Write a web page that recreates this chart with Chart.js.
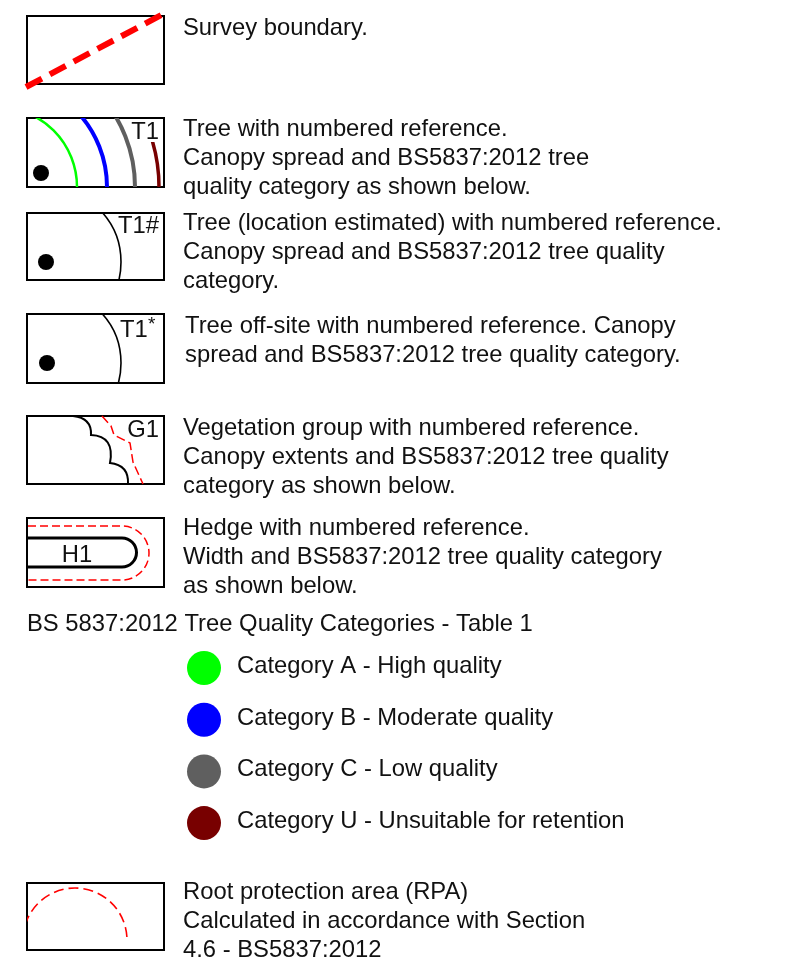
<!DOCTYPE html>
<html>
<head>
<meta charset="utf-8">
<script src="https://cdn.jsdelivr.net/npm/chart.js@4"></script>
<style>
  html, body { margin: 0; padding: 0; background: #fff; }
  #wrap { width: 789px; height: 964px; position: relative; }
</style>
</head>
<body>
<div id="wrap"><canvas id="legend"></canvas></div>
<script>
// tree quality categories (BS5837:2012 table 1)
const categoryLabels = [
  "Category A - High quality",
  "Category B - Moderate quality",
  "Category C - Low quality",
  "Category U - Unsuitable for retention",
];
const categoryColors = ["#00ff00", "#0000ff", "#5f5f5f", "#780000"];

// legend rows text, one array per symbol
const surveyText = ["Survey boundary."];
const treeText = [
  "Tree with numbered reference.",
  "Canopy spread and BS5837:2012 tree",
  "quality category as shown below.",
];
const treeEstText = [
  "Tree (location estimated) with numbered reference.",
  "Canopy spread and BS5837:2012 tree quality",
  "category.",
];
const treeOffText = [
  "Tree off-site with numbered reference. Canopy",
  "spread and BS5837:2012 tree quality category.",
];
const groupText = [
  "Vegetation group with numbered reference.",
  "Canopy extents and BS5837:2012 tree quality",
  "category as shown below.",
];
const hedgeText = [
  "Hedge with numbered reference.",
  "Width and BS5837:2012 tree quality category",
  "as shown below.",
];
const tableTitle = "BS 5837:2012 Tree Quality Categories - Table 1";
const rpaText = [
  "Root protection area (RPA)",
  "Calculated in accordance with Section",
  "4.6 - BS5837:2012",
];

// layout
const W = 789, H = 964;
const FONT = "23.8px 'Liberation Sans', Arial, sans-serif";
const LINE = 28.8;
const TEXT_X = 183;
const BOX_X = 27, BOX_W = 137;
const CAT_X = 204, CAT_TOP = 668, CAT_STEP = 51.7;

function box(ctx, y, h) {
  ctx.lineWidth = 2;
  ctx.strokeStyle = "#000";
  ctx.setLineDash([]);
  ctx.strokeRect(BOX_X, y, BOX_W, h);
}
function clipBox(ctx, y, h) {
  ctx.beginPath();
  ctx.rect(BOX_X, y, BOX_W, h);
  ctx.clip();
}
function dot(ctx, x, y) {
  ctx.fillStyle = "#000";
  ctx.beginPath();
  ctx.arc(x, y, 8, 0, Math.PI * 2);
  ctx.fill();
}
function lines(ctx, arr, x, y0) {
  arr.forEach((t, i) => ctx.fillText(t, x, y0 + i * LINE));
}

const legendDraw = {
  id: "legendDraw",
  beforeDatasetsDraw(chart) {
    const ctx = chart.ctx;
    ctx.save();
    ctx.lineCap = "butt";

    // survey boundary
    box(ctx, 16, 68);
    ctx.strokeStyle = "#ff0000";
    ctx.lineWidth = 6;
    ctx.setLineDash([18, 9]);
    ctx.beginPath();
    ctx.moveTo(26, 87);
    ctx.lineTo(165, 13);
    ctx.stroke();

    // tree with canopy tiers
    box(ctx, 118, 69);
    const radii = [80, 110, 138, 162];
    const widths = [2.5, 4, 4, 3.5];
    radii.forEach((r, i) => {
      ctx.save();
      ctx.beginPath();
      ctx.rect(BOX_X, i === 3 ? 142 : 118, BOX_W, i === 3 ? 45 : 69);
      ctx.clip();
      ctx.setLineDash([]);
      ctx.strokeStyle = categoryColors[i];
      ctx.lineWidth = widths[i];
      ctx.beginPath();
      ctx.arc(-3, 187, r, -Math.PI / 2, 0);
      ctx.stroke();
      ctx.restore();
    });
    dot(ctx, 41, 173);

    // tree location estimated
    box(ctx, 213, 67);
    ctx.save();
    clipBox(ctx, 213, 67);
    ctx.lineWidth = 1.6;
    ctx.strokeStyle = "#000";
    ctx.beginPath();
    ctx.arc(46, 262, 75, -Math.PI / 2, Math.PI / 2);
    ctx.stroke();
    ctx.restore();
    dot(ctx, 46, 262);

    // tree off-site
    box(ctx, 314, 69);
    ctx.save();
    clipBox(ctx, 314, 69);
    ctx.lineWidth = 1.6;
    ctx.strokeStyle = "#000";
    ctx.beginPath();
    ctx.arc(47, 363, 74, -Math.PI / 2, Math.PI / 2);
    ctx.stroke();
    ctx.restore();
    dot(ctx, 47, 363);

    // vegetation group
    box(ctx, 416, 68);
    ctx.lineWidth = 2;
    ctx.strokeStyle = "#000";
    ctx.beginPath();
    ctx.moveTo(73, 416);
    ctx.quadraticCurveTo(92, 418, 91, 435);
    ctx.quadraticCurveTo(115, 436, 110, 463);
    ctx.quadraticCurveTo(129, 465, 128, 484);
    ctx.stroke();
    ctx.strokeStyle = "#ff0000";
    ctx.lineWidth = 1.5;
    ctx.setLineDash([9, 4]);
    ctx.beginPath();
    ctx.moveTo(102, 416);
    ctx.lineTo(111, 426);
    ctx.lineTo(114, 435);
    ctx.lineTo(130, 443);
    ctx.lineTo(133, 462);
    ctx.lineTo(143, 484);
    ctx.stroke();

    // hedge
    box(ctx, 518, 69);
    ctx.setLineDash([]);
    ctx.strokeStyle = "#000";
    ctx.lineWidth = 3;
    ctx.beginPath();
    ctx.moveTo(26, 538);
    ctx.lineTo(122, 538);
    ctx.arc(122, 552.5, 14.5, -Math.PI / 2, Math.PI / 2);
    ctx.lineTo(26, 567);
    ctx.stroke();
    ctx.strokeStyle = "#ff0000";
    ctx.lineWidth = 1.5;
    ctx.setLineDash([8, 4]);
    ctx.beginPath();
    ctx.moveTo(28, 526);
    ctx.lineTo(122, 526);
    ctx.arc(122, 553, 27, -Math.PI / 2, Math.PI / 2);
    ctx.lineTo(28, 580);
    ctx.stroke();

    // root protection area
    box(ctx, 883, 67);
    ctx.save();
    clipBox(ctx, 883, 67);
    ctx.strokeStyle = "#ff0000";
    ctx.lineWidth = 1.6;
    ctx.setLineDash([10, 5]);
    ctx.beginPath();
    ctx.arc(75, 940, 52, Math.PI, Math.PI * 2);
    ctx.stroke();
    ctx.restore();

    // texts
    ctx.setLineDash([]);
    ctx.fillStyle = "#111";
    ctx.font = FONT;
    ctx.textBaseline = "alphabetic";
    ctx.textAlign = "right";
    ctx.fillText("T1", 159, 139);
    ctx.fillText("T1#", 159, 233);
    ctx.fillText("G1", 159, 437);
    ctx.textAlign = "left";
    ctx.fillText("T1", 120, 337);
    ctx.font = "19px 'Liberation Sans', Arial, sans-serif";
    ctx.fillText("*", 148, 330);
    ctx.font = FONT;
    ctx.textAlign = "center";
    ctx.fillText("H1", 77, 562);
    ctx.textAlign = "left";

    lines(ctx, surveyText, TEXT_X, 35);
    lines(ctx, treeText, TEXT_X, 136);
    lines(ctx, treeEstText, TEXT_X, 230);
    lines(ctx, treeOffText, TEXT_X + 2, 333);
    lines(ctx, groupText, TEXT_X, 435);
    lines(ctx, hedgeText, TEXT_X, 535);
    ctx.fillText(tableTitle, 27, 631);
    const ys = chart.scales.y;
    categoryLabels.forEach((t, i) => {
      ctx.fillText(t, 237, ys.getPixelForValue(i) + 5);
    });
    lines(ctx, rpaText, TEXT_X, 899);
    ctx.restore();
  },
};

const catMin = -CAT_TOP / CAT_STEP;
const chart = new Chart(document.getElementById("legend"), {
  type: "scatter",
  data: {
    labels: categoryLabels,
    datasets: [
      {
        label: "Tree quality categories",
        data: categoryLabels.map((_, i) => ({ x: 0, y: i })),
        backgroundColor: categoryColors,
        borderWidth: 0,
        pointRadius: 17,
        pointHoverRadius: 17,
      },
    ],
  },
  options: {
    responsive: true,
    maintainAspectRatio: false,
    animation: false,
    layout: { padding: 0, autoPadding: false },
    plugins: { legend: { display: false }, tooltip: { enabled: false } },
    scales: {
      x: { type: "linear", display: false, min: -CAT_X, max: W - CAT_X },
      y: {
        type: "linear",
        display: false,
        reverse: true,
        min: catMin,
        max: catMin + H / CAT_STEP,
      },
    },
  },
  plugins: [legendDraw],
});
</script>
</body>
</html>
